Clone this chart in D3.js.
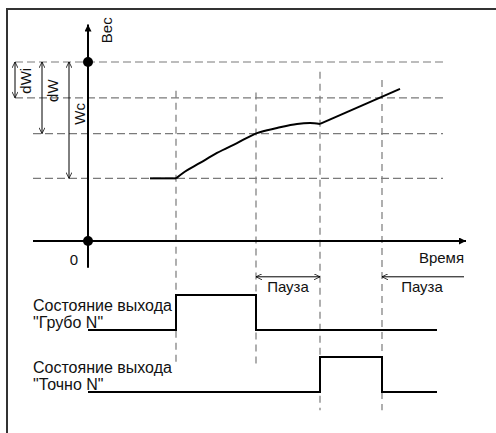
<!DOCTYPE html>
<html>
<head>
<meta charset="utf-8">
<script src="https://cdn.jsdelivr.net/npm/d3@7"></script>
<style>
body{margin:0;background:#fff;}
svg text{font-family:"Liberation Sans",Arial,sans-serif;font-size:15px;fill:#111;}
svg text.state{font-size:16px;}
.guide{stroke:#7a7a7a;stroke-width:1.2;stroke-dasharray:8,4;fill:none;}
.axis{stroke:#000;stroke-width:2;fill:none;}
.dim{stroke:#000;stroke-width:1;fill:none;}
.sig{stroke:#000;stroke-width:2;fill:none;}
</style>
</head>
<body>
<div id="chart"></div>
<script>
var w = 496;
var h = 433;

// weight levels (Wc top = 100), in weight units
var levels = [100, 80, 60, 35];
var levelStart = [-18.25, -18.25, -13.75, -13.75]; // left end of each dashed level, in time units
var levelEnd = 88.75;

// time markers (vertical guides) and their extent in weight units
var markers = [22, 42, 58, 73.5];
var markerTop = [84, 83, 94.5, 90];
var markerBottom = [-69, -69, -94.5, -94.5];

// dimension arrows: name, time position, from / to level, label pos
var dims = [
  {name: "dWi", t: -18.25, from: 100, to: 80, labelW: 89.5},
  {name: "dW", t: -11.5, from: 100, to: 60, labelW: 84},
  {name: "Wc", t: -4.75, from: 100, to: 35, labelW: 71}
];

// weight curve
var flatPart = [[15.5, 35], [22, 35]];
var curvePart = [[22, 35], [23.75, 38], [28, 43.6], [32.25, 49.2], [37.25, 54.7], [42.25, 60.3],
                 [47.25, 63.1], [52.25, 65.4], [55.5, 65.9], [58, 65.4]];
var linePart = [[58, 65.4], [78, 85]];

// output states (step after)
var coarse = [[0, 0], [22, 1], [42, 0], [87.25, 0]];
var fine = [[0, 0], [58, 1], [73.5, 0], [87.25, 0]];
var tracks = ["Грубо N", "Точно N"];

// pause arrows
var pauses = [
  {from: 42, to: 58, both: true, label: 50},
  {from: 73.5, to: 94, both: false, label: 83.5}
];

var x = d3.scaleLinear().domain([0, 95]).range([88, 468]);
var y = d3.scaleLinear().domain([0, 100]).range([241, 62]);
var trackY = d3.scalePoint().domain(tracks).range([330, 392]);
var levelY = d3.scaleLinear().domain([0, 1]).range([0, -35]);

var svg = d3.select("#chart").append("svg").attr("width", w).attr("height", h);

// frame (top and left edges visible)
svg.append("path").attr("d", "M7," + h + "V9H" + w)
  .attr("stroke", "#333").attr("stroke-width", 2).attr("fill", "none");

// horizontal guides
svg.selectAll(".lvl").data(levels).enter().append("line")
  .attr("class", "guide")
  .attr("x1", function(d, i){ return x(levelStart[i]); })
  .attr("x2", x(levelEnd))
  .attr("y1", function(d){ return y(d); })
  .attr("y2", function(d){ return y(d); });

// vertical guides
svg.selectAll(".mk").data(markers).enter().append("line")
  .attr("class", "guide")
  .style("stroke-dasharray", "7,5")
  .attr("x1", function(d){ return x(d); })
  .attr("x2", function(d){ return x(d); })
  .attr("y1", function(d, i){ return y(markerTop[i]); })
  .attr("y2", function(d, i){ return y(markerBottom[i]); });

// arrow heads
var defs = svg.append("defs");
defs.append("marker").attr("id", "tri").attr("viewBox", "0 0 10 10")
  .attr("refX", 10).attr("refY", 5).attr("markerWidth", 10).attr("markerHeight", 7)
  .attr("markerUnits", "userSpaceOnUse").attr("orient", "auto")
  .append("path").attr("d", "M0,0L10,5L0,10Z").attr("fill", "#000");
defs.append("marker").attr("id", "open").attr("viewBox", "0 0 10 10")
  .attr("refX", 10).attr("refY", 5).attr("markerWidth", 7).attr("markerHeight", 6)
  .attr("markerUnits", "userSpaceOnUse").attr("orient", "auto-start-reverse")
  .append("path").attr("d", "M0,0L10,5L0,10").attr("fill", "none").attr("stroke", "#000").attr("stroke-width", 1.3);

// axes
svg.append("line").attr("class", "axis")
  .attr("x1", x(0)).attr("x2", x(0)).attr("y1", y(-15)).attr("y2", y(121))
  .attr("marker-end", "url(#tri)");
svg.append("line").attr("class", "axis")
  .attr("x1", x(-13.75)).attr("x2", x(94.5)).attr("y1", y(0)).attr("y2", y(0))
  .attr("marker-end", "url(#tri)");
svg.selectAll(".dot").data([0, 100]).enter().append("circle")
  .attr("cx", x(0)).attr("cy", function(d){ return y(d); }).attr("r", 5).attr("fill", "#000");

svg.append("text").attr("transform", "translate(112," + y(110.5) + ") rotate(-90)").text("Вес");
svg.append("text").attr("x", 74).attr("y", y(-13.5)).attr("text-anchor", "middle").text("0");
svg.append("text").attr("x", x(94)).attr("y", y(-12.5)).attr("text-anchor", "end").text("Время");

// dimension arrows
svg.selectAll(".dim").data(dims).enter().append("line")
  .attr("class", "dim")
  .attr("x1", function(d){ return x(d.t); }).attr("x2", function(d){ return x(d.t); })
  .attr("y1", function(d){ return y(d.from); }).attr("y2", function(d){ return y(d.to); })
  .attr("marker-start", "url(#open)").attr("marker-end", "url(#open)");
svg.selectAll(".dimt").data(dims).enter().append("text")
  .attr("text-anchor", "middle")
  .attr("transform", function(d){ return "translate(" + (x(d.t) + 16) + "," + y(d.labelW) + ") rotate(-90)"; })
  .text(function(d){ return d.name; });

// weight curve
var line = d3.line().x(function(d){ return x(d[0]); }).y(function(d){ return y(d[1]); });
svg.append("path").attr("class", "sig").attr("d", line(flatPart));
svg.append("path").attr("class", "sig").attr("d", line.curve(d3.curveMonotoneX)(curvePart));
svg.append("path").attr("class", "sig").attr("d", line.curve(d3.curveLinear)(linePart));

// pause arrows
svg.selectAll(".pz").data(pauses).enter().append("line")
  .attr("class", "dim")
  .attr("x1", function(d){ return x(d.from); }).attr("x2", function(d){ return x(d.to); })
  .attr("y1", y(-20)).attr("y2", y(-20))
  .attr("marker-start", "url(#open)")
  .attr("marker-end", function(d){ return d.both ? "url(#open)" : null; });
svg.selectAll(".pzt").data(pauses).enter().append("text")
  .attr("x", function(d){ return x(d.label); }).attr("y", y(-28.5))
  .attr("text-anchor", "middle").text("Пауза");

// output states
var step = d3.line().curve(d3.curveStepAfter);
[coarse, fine].forEach(function(s, i){
  var base = trackY(tracks[i]);
  svg.append("path").attr("class", "sig")
    .attr("d", step(s.map(function(p){ return [x(p[0]), base + levelY(p[1])]; })));
  var t = svg.append("text").attr("class", "state").attr("x", 33).attr("y", base - 19);
  t.append("tspan").attr("x", 33).text("Состояние выхода");
  t.append("tspan").attr("x", 33).attr("dy", 17).text("\"" + tracks[i] + "\"");
});
</script>
</body>
</html>
